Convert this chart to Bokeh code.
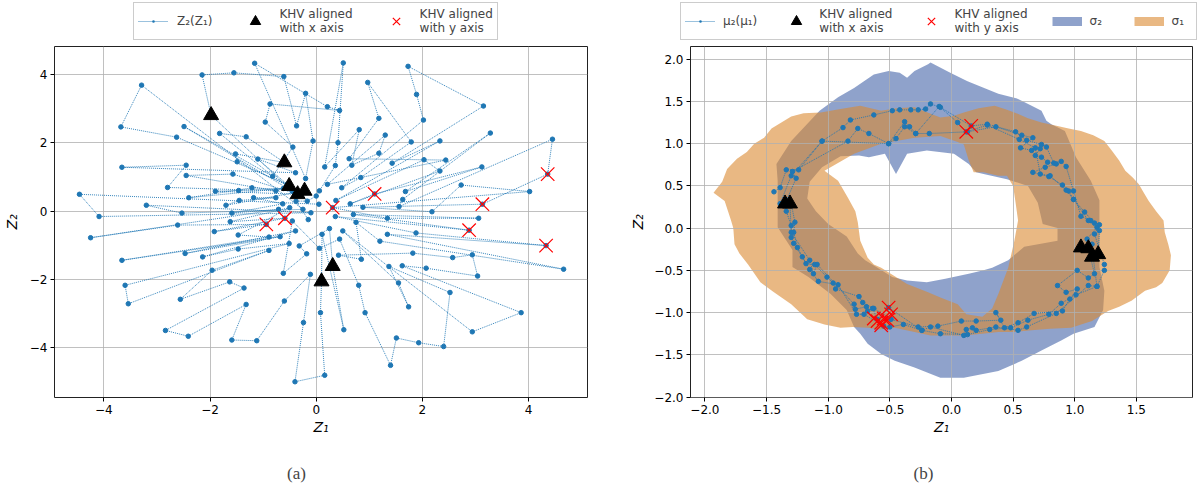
from bokeh.plotting import figure
from bokeh.layouts import row, column
from bokeh.models import Range1d, FixedTicker, Legend, LegendItem, Label
from bokeh.embed import file_html
from bokeh.resources import INLINE

# ---------------- panel (a): latent walk Z2(Z1) ----------------
z1 = [0.05, -4.46, -4.09, -0.10, -3.20, -2.53, -0.25, -3.29, -3.68, -2.63,
      -0.55, -2.49, -0.45, -1.98, -2.15, -1.55, -0.61, -0.37, -0.20, -0.06,
      -0.20, -1.16, 0.21, 0.44, -0.87, -0.96, -0.44, -0.82, -1.82, -1.32,
      -0.60, -1.52, -1.49, -0.51, -1.10, -0.39, -3.66, -2.45, -2.80, -0.76,
      -2.45, -1.57, -0.35, -1.90, -1.46, -0.62, -2.40, -1.21, -0.22, -1.70,
      -1.45, -0.76, -1.18, -0.63, -1.59, -0.71, -4.25, -2.61, -0.94, -1.92,
      -0.59, -1.62, -0.50, -1.47, -0.89, -3.66, -0.68, -2.47, -0.39, -2.14,
      -1.47, -0.51, -3.60, -3.54, -0.89, -1.96, -2.56, -1.63, -1.36, -2.84,
      -2.41, -1.32, -1.59, -1.12, -0.60, -0.11, -0.24, -0.40, 0.16, 0.08,
      0.10, 0.11, 0.52, 0.31, 0.25, -0.32, -0.18, -0.62, -0.45, 0.06,
      0.44, 0.80, 0.92, 1.40, 1.51, 1.93, 2.40, 2.52, 1.37, 1.74,
      1.55, 0.50, 2.94, 3.86, 1.62, 2.07, 3.04, 2.94, 2.57, 1.82,
      0.42, 0.85, 0.75, 1.20, 4.66, 1.34, 4.33, 1.88, 0.36, 2.88,
      0.70, 3.06, 1.34, 0.31, 4.02, 2.73, 2.18, 0.88, 3.13, 4.36,
      4.45, 1.56, 1.63, 3.28, 1.68, 3.12, 1.10, 0.64, 2.33, 2.03,
      0.37, 2.33, 1.43, 3.15, 1.73, 1.89, 2.02, 0.48, 0.84, 1.79,
      0.97, 1.18, 0.62, 2.44, 0.21, 1.30, 1.18, 0.67, 0.81, 0.16,
      0.51, 0.41, 0.36, 0.06, 0.00, -0.17, -0.38, -0.15]
z2 = [0.20, 0.49, -0.16, -0.05, 0.17, -0.06, 0.05, 3.68, 2.46, 2.16,
      0.78, 2.47, 0.58, 2.80, 3.98, 4.04, 3.93, 2.49, 3.44, 2.05,
      0.95, 4.32, 3.05, 2.94, 3.13, 2.60, 1.87, 1.02, 2.27, 2.17,
      1.42, 1.67, 1.44, 0.73, 1.52, 1.12, 1.28, 1.34, 0.69, 0.59,
      1.04, 1.08, 0.49, 0.58, 0.60, 0.66, 0.39, 0.68, 0.59, 0.17,
      0.31, 0.39, 0.39, 0.21, -0.06, 0.05, -0.78, -0.41, -0.39, -0.60,
      -0.21, -0.31, 0.10, -0.70, -0.76, -1.44, -0.75, -1.24, -0.58, -1.34,
      -1.11, -0.95, -2.17, -2.71, -1.15, -1.73, -2.58, -2.07, -2.25, -3.49,
      -3.66, -2.73, -3.77, -3.79, -2.63, -1.85, -3.26, -4.99, -4.80, -2.97,
      -2.06, -0.68, -3.47, -1.61, -0.51, -1.02, -1.25, -1.82, -0.29, -1.09,
      -0.82, -2.17, -2.97, -4.51, -3.71, -3.85, -3.96, -2.38, -1.62, -2.80,
      -2.10, -0.58, -3.53, -2.97, -1.60, -1.67, -1.90, -1.28, -1.36, -1.23,
      -1.29, -1.41, -0.33, -0.88, -1.70, -0.68, -1.01, -0.64, -0.16, -0.56,
      -0.10, -0.21, -0.21, 0.10, 0.57, 0.76, -0.02, 0.11, 0.20, 1.08,
      2.10, 0.13, 0.34, 2.28, 0.57, 1.29, 0.50, 0.21, 1.17, 1.50,
      0.31, 2.05, 1.40, 3.07, 4.23, 3.41, 2.66, 0.68, 0.98, 2.02,
      3.76, 2.71, 1.53, 1.49, 0.78, 2.22, 1.69, 1.34, 2.38, 1.29,
      4.33, 2.00, 1.33, 0.59, 0.44, 0.29, 0.29, -0.25]

khv_x_z1 = [-1.98, -0.60, -0.51, -0.35, -0.22, 0.31, 0.10]
khv_x_z2 = [2.80, 1.42, 0.73, 0.49, 0.59, -1.61, -2.06]
khv_y_z1 = [4.36, 3.13, 1.10, 0.31, 2.88, 4.33, -0.59, -0.94]
khv_y_z2 = [1.08, 0.20, 0.50, 0.10, -0.56, -1.01, -0.21, -0.39]

ticks_a = [-4, -2, 0, 2, 4]

# ---------------- panel (b): mean path mu2(mu1) with sigma bands ----------------
mu1_lap1 = [-1.44, -1.39, -1.34, -1.24, -1.05, -0.88, -0.82, -0.63, -0.48, -0.42,
            -0.33, -0.27, -0.21, -0.17, -0.09, 0.16, 0.29, 0.52, 0.61, 0.73,
            0.77, 0.83, 0.89, 0.93, 0.99, 1.05, 1.13, 1.20, 1.16, 1.24,
            1.24, 1.18, 1.01, 0.89, 0.79, 0.62, 0.48, 0.31, 0.13, -0.09,
            -0.24, -0.39, -0.50, -0.55, -0.71, -0.77, -0.92, -1.08, -1.15, -1.21,
            -1.28, -1.30, -1.30, -1.34, -1.35]
mu2_lap1 = [0.43, 0.48, 0.69, 0.69, 1.03, 1.19, 1.28, 1.34, 1.39, 1.40,
            1.40, 1.40, 1.41, 1.47, 1.43, 1.21, 1.23, 1.14, 1.04, 0.99,
            0.96, 0.77, 0.79, 0.73, 0.44, 0.14, 0.09, 0.04, -0.07, -0.43,
            -0.50, -0.69, -0.79, -0.89, -1.02, -1.09, -1.18, -1.20, -1.26, -1.25,
            -1.21, -1.14, -1.17, -1.16, -1.02, -1.02, -0.67, -0.63, -0.49, -0.34,
            -0.18, -0.11, 0.03, 0.20, 0.29]
mu1_lap2 = [-1.26, -1.29, -0.84, -0.76, -0.67, -0.51, -0.38, -0.34, -0.29, -0.18,
            0.13, 0.36, 0.57, 0.66, 0.56, 0.65, 0.72, 0.68, 0.73, 0.78,
            0.85, 0.76, 0.66, 0.79, 0.90, 0.95, 0.99, 1.08, 1.16, 1.18,
            1.10, 1.14, 1.11, 1.16, 1.11, 1.02, 0.86, 0.93, 1.02, 0.96,
            0.90, 0.67, 0.54, 0.43, 0.36, 0.40, 0.20, 0.08, -0.11, -0.27,
            -0.49, -0.63, -0.72, -0.75, -0.94, -0.96, -1.01, -1.11, -1.18, -1.25,
            -1.28, -1.27, -1.30]
mu2_lap2 = [0.59, 0.67, 1.03, 1.18, 1.12, 1.00, 1.26, 1.20, 1.12, 1.12,
            1.14, 1.20, 1.10, 1.07, 0.95, 0.92, 0.94, 0.86, 0.84, 0.78,
            0.76, 0.72, 0.66, 0.61, 0.51, 0.44, 0.34, 0.19, 0.06, 0.01,
            -0.13, -0.19, -0.24, -0.54, -0.59, -0.50, -0.68, -0.76, -0.72, -0.84,
            -0.98, -1.01, -1.12, -1.18, -1.00, -1.09, -1.10, -1.10, -1.16, -1.17,
            -1.08, -0.95, -0.88, -0.81, -0.72, -0.65, -0.58, -0.43, -0.42, -0.23,
            -0.05, 0.07, 0.29]
mu1_lap3 = [-1.39, -1.30, -1.05, -0.51, -0.45, -0.38, -0.29, -0.10, 0.05, 0.12,
            0.29, 0.55, 0.68, 0.72, 0.80, 0.93, 0.99, 1.11, 1.20, 1.19,
            1.15, 1.18, 1.11, 0.85, 0.61, 0.54, 0.36, 0.20, 0.17, 0.12,
            0.10, -0.17, -0.24, -0.51, -0.60, -0.64, -0.68, -0.69, -0.78, -0.79,
            -1.09, -1.12, -1.15, -1.30, -1.31]
mu2_lap3 = [0.29, 0.62, 1.03, 1.00, 1.06, 1.20, 1.12, 1.44, 1.25, 1.14,
            1.22, 1.05, 0.95, 0.64, 0.62, 0.45, 0.34, 0.09, -0.03, -0.31,
            -0.35, -0.69, -0.68, -1.01, -1.17, -1.21, -1.17, -1.21, -1.18, -1.20,
            -1.27, -1.17, -1.21, -0.94, -1.08, -0.95, -0.98, -0.93, -0.96, -0.90,
            -0.43, -0.54, -0.38, -0.05, 0.29]

khv_x_mu1 = [-1.35, -1.31, 1.05, 1.11, 1.14, 1.19]
khv_x_mu2 = [0.29, 0.29, -0.23, -0.24, -0.34, -0.31]
khv_y_mu1 = [0.16, 0.12, -0.51, -0.49, -0.63, -0.60, -0.57, -0.55, -0.57, -0.52]
khv_y_mu2 = [1.21, 1.14, -0.94, -1.02, -1.07, -1.10, -1.12, -1.07, -1.15, -1.09]

# sigma_2 band (vertical spread): outer edge and inner edge
sig2_outer_x = [-1.30, -1.07, -0.92, -0.79, -0.63, -0.51, -0.42, -0.36, -0.30, -0.19,
                -0.17, -0.01, 0.13, 0.38, 0.54, 0.65, 0.73, 0.77, 0.81, 0.92,
                1.01, 1.13, 1.20, 1.20, 1.20, 1.24, 1.23, 1.16, 0.99, 0.89,
                0.73, 0.57, 0.38, 0.10, -0.09, -0.30, -0.46, -0.57, -0.68, -0.74,
                -0.79, -0.85, -0.98, -1.16, -1.29, -1.29, -1.41, -1.41, -1.41, -1.42]
sig2_outer_y = [1.03, 1.39, 1.55, 1.66, 1.82, 1.86, 1.84, 1.78, 1.86, 1.94,
                1.96, 1.84, 1.74, 1.59, 1.53, 1.45, 1.39, 1.27, 1.23, 1.15,
                0.84, 0.56, 0.33, -0.07, -0.46, -0.74, -0.97, -1.17, -1.25, -1.33,
                -1.45, -1.57, -1.69, -1.77, -1.77, -1.65, -1.57, -1.49, -1.37, -1.25,
                -1.17, -0.97, -0.78, -0.58, -0.46, -0.26, 0.01, 0.17, 0.56, 0.76]
sig2_inner_x = [-1.15, -1.05, -0.90, -0.75, -0.67, -0.54, -0.45, -0.36, -0.20, 0.02,
                0.14, 0.20, 0.26, 0.45, 0.62, 0.70, 0.74, 0.86, 0.86, 0.59,
                0.46, 0.33, 0.26, 0.14, -0.05, -0.20, -0.36, -0.48, -0.61, -0.70,
                -0.76, -0.85, -1.00, -1.10, -1.17]
sig2_inner_y = [0.55, 0.72, 0.85, 0.86, 0.84, 0.88, 0.64, 0.88, 0.92, 0.88,
                0.76, 0.66, 0.64, 0.58, 0.50, 0.30, 0.05, 0.00, -0.15, -0.22,
                -0.38, -0.47, -0.50, -0.54, -0.60, -0.64, -0.62, -0.58, -0.46, -0.38,
                -0.30, -0.10, 0.05, 0.20, 0.35]

# sigma_1 band (horizontal spread): outer edge and inner edge
sig1_outer_x = [-1.93, -1.86, -1.82, -1.74, -1.66, -1.60, -1.52, -1.46, -1.38, -1.30,
                -1.20, -1.06, -0.90, -0.74, -0.57, -0.45, -0.30, -0.18, -0.09, 0.02,
                0.10, 0.22, 0.35, 0.45, 0.51, 0.62, 0.73, 0.86, 0.95, 1.05,
                1.15, 1.24, 1.30, 1.36, 1.41, 1.47, 1.52, 1.56, 1.60, 1.66,
                1.72, 1.73, 1.76, 1.78, 1.77, 1.71, 1.66, 1.57, 1.46, 1.36,
                1.27, 1.14, 0.97, 0.80, 0.65, 0.50, 0.38, 0.25, 0.10, -0.05,
                -0.17, -0.30, -0.46, -0.58, -0.68, -0.80, -0.90, -1.03, -1.17, -1.30,
                -1.44, -1.55, -1.65, -1.72, -1.76, -1.77, -1.79, -1.84]
sig1_outer_y = [0.42, 0.55, 0.70, 0.82, 0.90, 1.00, 1.07, 1.18, 1.25, 1.32,
                1.36, 1.37, 1.41, 1.45, 1.39, 1.42, 1.43, 1.36, 1.31, 1.33,
                1.37, 1.42, 1.45, 1.40, 1.37, 1.30, 1.25, 1.21, 1.18, 1.15,
                1.10, 1.03, 0.92, 0.80, 0.68, 0.60, 0.52, 0.42, 0.32, 0.20,
                0.09, -0.05, -0.20, -0.32, -0.50, -0.65, -0.70, -0.74, -0.86, -0.93,
                -0.98, -1.10, -1.18, -1.19, -1.21, -1.23, -1.23, -1.25, -1.27, -1.27,
                -1.27, -1.23, -1.18, -1.20, -1.18, -1.17, -1.18, -1.14, -1.08, -0.90,
                -0.76, -0.64, -0.43, -0.30, -0.19, 0.00, 0.10, 0.32]
sig1_inner_x = [-1.03, -0.79, -0.57, -0.30, -0.09, 0.05, 0.10, 0.14, 0.18, 0.26,
                0.38, 0.45, 0.50, 0.52, 0.54, 0.51, 0.46, 0.38, 0.33, 0.25,
                0.12, 0.05, -0.09, -0.19, -0.36, -0.57, -0.63, -0.68, -0.74, -0.76,
                -0.78, -0.84, -0.92]
sig1_inner_y = [0.68, 0.88, 1.00, 1.07, 1.09, 1.02, 0.99, 0.80, 0.66, 0.66,
                0.62, 0.62, 0.50, 0.30, 0.09, -0.15, -0.47, -0.78, -0.95, -1.05,
                -1.02, -0.90, -0.82, -0.76, -0.66, -0.47, -0.43, -0.35, -0.15, 0.07,
                0.20, 0.36, 0.56]

ticks_b_x = [-2.0, -1.5, -1.0, -0.5, 0.0, 0.5, 1.0, 1.5]
ticks_b_y = [-2.0, -1.5, -1.0, -0.5, 0.0, 0.5, 1.0, 1.5, 2.0]

PATH_BLUE = "#1f77b4"
SIG2_COLOR = "#4464a8"
SIG1_COLOR = "#da8930"
BAND_ALPHA = 0.6
FONT = "DejaVu Sans"
NAN = float("nan")
MAIN_H = 394     # height of the two plot panels
TOP_H = 46       # strip holding the legends
BOTTOM_H = 49    # strip holding the (a)/(b) captions


def minus(s):
    return s.replace("-", "\u2212")


def style_axes(p, xticks, yticks, fmt, ylabel_standoff):
    for ax, ticks in ((p.xaxis[0], xticks), (p.yaxis[0], yticks)):
        ax.ticker = FixedTicker(ticks=ticks)
        ax.major_label_overrides = {t: minus(fmt.format(t)) for t in ticks}
        ax.axis_line_color = None
        ax.major_tick_line_color = "black"
        ax.major_tick_line_width = 1
        ax.major_tick_out = 4
        ax.major_tick_in = 0
        ax.minor_tick_line_color = None
        ax.major_label_text_font = FONT
        ax.major_label_text_font_size = "12px"
        ax.major_label_text_color = "black"
        ax.major_label_standoff = 3
        ax.axis_label_text_font = FONT
        ax.axis_label_text_font_size = "14px"
        ax.axis_label_text_font_style = "italic"
        ax.axis_label_text_color = "black"
    p.xaxis.axis_label = "Z\u2081"
    p.yaxis.axis_label = "Z\u2082"
    p.xaxis.axis_label_standoff = 2
    p.yaxis.axis_label_standoff = ylabel_standoff
    p.grid.grid_line_color = "#b0b0b0"
    p.grid.grid_line_width = 0.8
    p.outline_line_color = "#222222"
    p.outline_line_width = 1
    p.outline_line_alpha = 1


def blank_strip(height):
    s = figure(width=1200, height=height, x_range=Range1d(0, 1200), y_range=Range1d(0, height),
               output_backend="svg", toolbar_location=None,
               x_axis_location=None, y_axis_location=None, min_border=0)
    s.grid.visible = False
    s.outline_line_color = None
    return s


def make_legend(items, loc, spacing, standoff):
    return Legend(items=items, orientation="horizontal", location=loc,
                  glyph_width=30, glyph_height=26, label_standoff=standoff, spacing=spacing,
                  padding=4, margin=0,
                  label_text_font=FONT, label_text_font_size="12px",
                  label_text_line_height=1.0,
                  border_line_color="#cccccc", border_line_width=1, border_line_alpha=1,
                  background_fill_color="white", background_fill_alpha=1)


def draw_path(p, xs, ys):
    p.line(xs, ys, line_color=PATH_BLUE, line_width=0.9, line_dash="1 1")
    p.scatter(xs, ys, size=4.5, marker="circle", fill_color=PATH_BLUE, line_color=PATH_BLUE)


def draw_khv(p, tx, ty, cx, cy):
    p.scatter(tx, ty, marker="triangle", size=15, fill_color="black", line_color="black")
    p.scatter(cx, cy, marker="x", size=19, line_color="red", line_width=1.2)


def legend_keys(s):
    # legend-only renderers (no visible data) in the strip figure
    path_line = s.line([NAN], [NAN], line_color=PATH_BLUE, line_width=0.9, line_dash="1 1")
    path_dot = s.scatter([NAN], [NAN], marker="dot", size=10, line_color=PATH_BLUE)
    tri = s.scatter([NAN], [NAN], marker="triangle", fill_color="black", line_color="black")
    crs = s.scatter([NAN], [NAN], marker="x", line_color="red", line_width=1.2)
    return path_line, path_dot, tri, crs


# ---- figure (a)
pa = figure(width=600, height=MAIN_H, x_range=Range1d(-4.93, 5.11), y_range=Range1d(-5.45, 4.81),
            output_backend="svg", toolbar_location=None,
            min_border_left=50, min_border_right=13, min_border_top=0, min_border_bottom=MAIN_H - 351)
style_axes(pa, ticks_a, ticks_a, "{:d}", 7)
draw_path(pa, z1, z2)
draw_khv(pa, khv_x_z1, khv_x_z2, khv_y_z1, khv_y_z2)

# ---- figure (b)
pb = figure(width=600, height=MAIN_H, x_range=Range1d(-2.117, 1.955), y_range=Range1d(-2.005, 2.15),
            output_backend="svg", toolbar_location=None,
            min_border_left=90, min_border_right=8, min_border_top=0, min_border_bottom=MAIN_H - 351)
style_axes(pb, ticks_b_x, ticks_b_y, "{:.1f}", 5)
pb.multi_polygons(xs=[[[sig2_outer_x, sig2_inner_x]]], ys=[[[sig2_outer_y, sig2_inner_y]]],
                  fill_color=SIG2_COLOR, fill_alpha=BAND_ALPHA, line_color=None, level="image")
pb.multi_polygons(xs=[[[sig1_outer_x, sig1_inner_x]]], ys=[[[sig1_outer_y, sig1_inner_y]]],
                  fill_color=SIG1_COLOR, fill_alpha=BAND_ALPHA, line_color=None, level="image")
mu1 = mu1_lap1 + mu1_lap2 + mu1_lap3
mu2 = mu2_lap1 + mu2_lap2 + mu2_lap3
draw_path(pb, mu1, mu2)
draw_khv(pb, khv_x_mu1, khv_x_mu2, khv_y_mu1, khv_y_mu2)

# ---- legends strip
top = blank_strip(TOP_H)
la_line, la_dot, la_tri, la_crs = legend_keys(top)
lb_line, lb_dot, lb_tri, lb_crs = legend_keys(top)
sig2_key = top.line([NAN], [NAN], line_color=SIG2_COLOR, line_alpha=BAND_ALPHA, line_width=9, line_cap="butt")
sig1_key = top.line([NAN], [NAN], line_color=SIG1_COLOR, line_alpha=BAND_ALPHA, line_width=9, line_cap="butt")
top.add_layout(make_legend([
    LegendItem(label="Z\u2082(Z\u2081)", renderers=[la_line, la_dot]),
    LegendItem(label="KHV aligned\nwith x axis", renderers=[la_tri]),
    LegendItem(label="KHV aligned\nwith y axis", renderers=[la_crs]),
], (133, 6), 28, 9))
top.add_layout(make_legend([
    LegendItem(label="\u03bc\u2082(\u03bc\u2081)", renderers=[lb_line, lb_dot]),
    LegendItem(label="KHV aligned\nwith x axis", renderers=[lb_tri]),
    LegendItem(label="KHV aligned\nwith y axis", renderers=[lb_crs]),
    LegendItem(label="\u03c3\u2082", renderers=[sig2_key]),
    LegendItem(label="\u03c3\u2081", renderers=[sig1_key]),
], (680, 6), 24, 8))

# ---- captions strip
bottom = blank_strip(BOTTOM_H)
for cx, txt in ((296, "(a)"), (923, "(b)")):
    bottom.add_layout(Label(x=cx, y=16, x_units="screen", y_units="screen", text=txt,
                            text_font="Liberation Serif", text_font_size="17px",
                            text_align="center", text_baseline="middle"))

layout = column(top, row(pa, pb), bottom)
open("out.html", "w").write(file_html(layout, INLINE))
